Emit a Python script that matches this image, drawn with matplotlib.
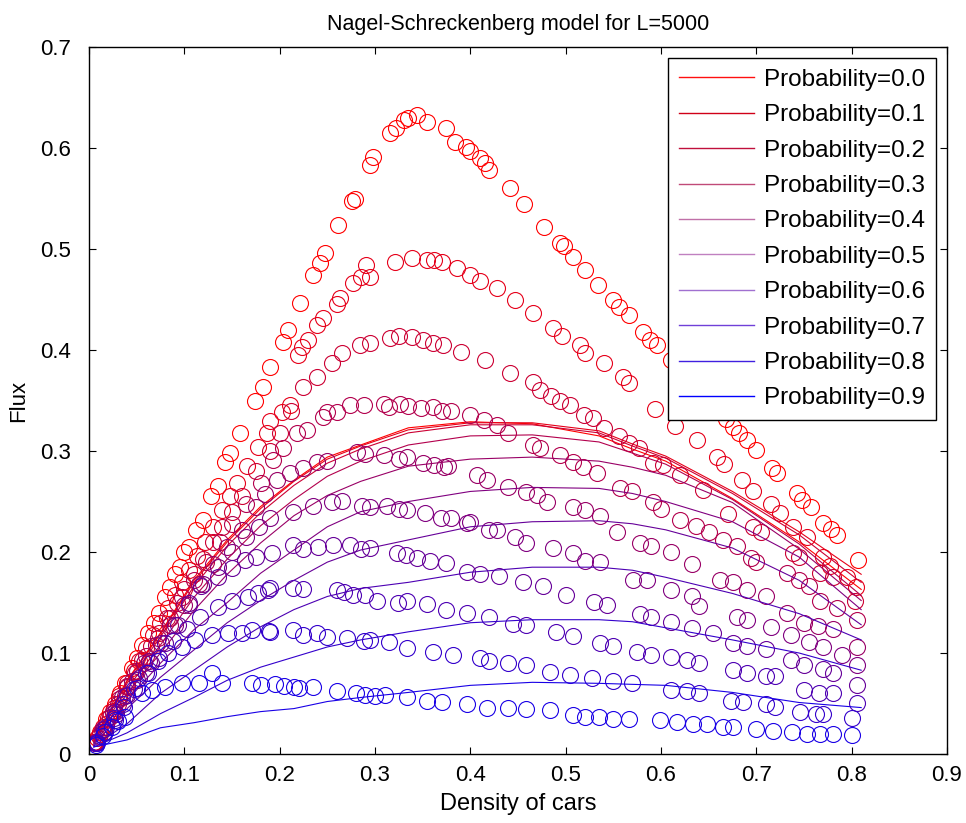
import numpy as np
import matplotlib
matplotlib.use('Agg')
import matplotlib.pyplot as plt
from matplotlib.lines import Line2D

plt.rcParams['font.family'] = ['Liberation Sans', 'DejaVu Sans']

# probabilities and colours (red -> blue)
probs = [0.0, 0.1, 0.2, 0.3, 0.4, 0.5, 0.6, 0.7, 0.8, 0.9]
legend_colors = ['#ff1010', '#d00018', '#c0103c', '#c04a78', '#c070a8',
                 '#c080c0', '#a070d0', '#7040d8', '#4020e0', '#0000ff']

# simulated flux points (circles), one list per probability
x_p0 = [0.005, 0.008, 0.012, 0.018, 0.022, 0.027, 0.033, 0.038, 0.045, 0.05, 0.056, 0.062, 0.068, 0.073,
        0.08, 0.085, 0.09, 0.095, 0.1, 0.105, 0.112, 0.12, 0.128, 0.135, 0.143, 0.148, 0.158, 0.174, 0.183,
        0.19, 0.204, 0.209, 0.221, 0.235, 0.242, 0.248, 0.261, 0.276, 0.279, 0.295, 0.298, 0.316, 0.322,
        0.33, 0.335, 0.344, 0.355, 0.374, 0.384, 0.396, 0.40, 0.41, 0.415, 0.42, 0.442, 0.456, 0.477, 0.494,
        0.498, 0.508, 0.52, 0.534, 0.55, 0.556, 0.566, 0.581, 0.588, 0.596, 0.61, 0.625, 0.64, 0.655, 0.668,
        0.676, 0.682, 0.69, 0.70, 0.716, 0.722, 0.743, 0.748, 0.757, 0.77, 0.778, 0.785, 0.807]
y_p0 = [0.012, 0.016, 0.022, 0.035, 0.042, 0.05, 0.06, 0.07, 0.085, 0.095, 0.108, 0.12, 0.13, 0.14,
        0.155, 0.165, 0.178, 0.185, 0.2, 0.205, 0.222, 0.232, 0.255, 0.265, 0.289, 0.298, 0.318, 0.35, 0.363,
        0.383, 0.408, 0.42, 0.447, 0.474, 0.486, 0.496, 0.524, 0.548, 0.55, 0.583, 0.591, 0.615, 0.62,
        0.628, 0.63, 0.633, 0.626, 0.62, 0.606, 0.601, 0.597, 0.59, 0.585, 0.578, 0.56, 0.545, 0.522, 0.506,
        0.503, 0.492, 0.479, 0.464, 0.45, 0.443, 0.435, 0.418, 0.41, 0.405, 0.39, 0.375, 0.36, 0.345, 0.332,
        0.324, 0.318, 0.311, 0.301, 0.283, 0.278, 0.258, 0.252, 0.245, 0.229, 0.223, 0.217, 0.192]

x_p1 = [0.006, 0.01, 0.015, 0.02, 0.026, 0.032, 0.04, 0.047, 0.053, 0.06, 0.067, 0.075, 0.083, 0.09,
        0.098, 0.105, 0.113, 0.122, 0.13, 0.14, 0.148, 0.155, 0.166, 0.177, 0.187, 0.19, 0.202, 0.211,
        0.219, 0.223, 0.23, 0.239, 0.246, 0.26, 0.263, 0.277, 0.285, 0.291, 0.295, 0.321, 0.339, 0.355,
        0.362, 0.37, 0.386, 0.40, 0.41, 0.428, 0.447, 0.466, 0.487, 0.496, 0.515, 0.52, 0.54, 0.56, 0.566,
        0.594, 0.615, 0.638, 0.659, 0.666, 0.685, 0.697, 0.715, 0.725, 0.739, 0.753, 0.77, 0.777, 0.795, 0.805]
y_p1 = [0.012, 0.018, 0.027, 0.036, 0.046, 0.057, 0.07, 0.082, 0.092, 0.105, 0.118, 0.13, 0.145, 0.157,
        0.17, 0.182, 0.196, 0.21, 0.225, 0.242, 0.255, 0.268, 0.285, 0.304, 0.318, 0.33, 0.339, 0.346,
        0.395, 0.403, 0.41, 0.425, 0.432, 0.446, 0.452, 0.466, 0.472, 0.484, 0.472, 0.487, 0.491, 0.489,
        0.489, 0.487, 0.481, 0.474, 0.468, 0.461, 0.45, 0.437, 0.422, 0.414, 0.405, 0.397, 0.387, 0.373, 0.367,
        0.342, 0.325, 0.311, 0.294, 0.287, 0.271, 0.26, 0.248, 0.239, 0.225, 0.215, 0.195, 0.186, 0.175, 0.165]

x_p2 = [0.006, 0.012, 0.018, 0.025, 0.032, 0.04, 0.048, 0.056, 0.065, 0.073, 0.082, 0.092, 0.1, 0.11,
        0.12, 0.13, 0.14, 0.15, 0.16, 0.175, 0.19, 0.2, 0.212, 0.225, 0.239, 0.255, 0.265, 0.284, 0.295,
        0.316, 0.325, 0.339, 0.35, 0.361, 0.371, 0.39, 0.415, 0.442, 0.466, 0.473, 0.485, 0.494, 0.505,
        0.519, 0.529, 0.54, 0.556, 0.566, 0.577, 0.592, 0.602, 0.62, 0.644, 0.67, 0.697, 0.705, 0.739,
        0.745, 0.767, 0.78, 0.804]
y_p2 = [0.011, 0.02, 0.03, 0.043, 0.054, 0.067, 0.08, 0.093, 0.107, 0.12, 0.135, 0.15, 0.163, 0.178,
        0.193, 0.21, 0.225, 0.24, 0.255, 0.28, 0.3, 0.318, 0.34, 0.363, 0.373, 0.387, 0.397, 0.405, 0.407,
        0.412, 0.414, 0.413, 0.41, 0.407, 0.405, 0.398, 0.39, 0.377, 0.368, 0.36, 0.355, 0.35, 0.346,
        0.336, 0.333, 0.323, 0.315, 0.308, 0.303, 0.288, 0.286, 0.276, 0.261, 0.238, 0.225, 0.22, 0.199,
        0.195, 0.179, 0.175, 0.152]

x_p3 = [0.007, 0.014, 0.022, 0.03, 0.04, 0.05, 0.06, 0.072, 0.085, 0.098, 0.11, 0.123, 0.137, 0.15,
        0.165, 0.18, 0.193, 0.204, 0.218, 0.229, 0.245, 0.25, 0.26, 0.274, 0.288, 0.309, 0.315, 0.326,
        0.335, 0.348, 0.361, 0.37, 0.38, 0.40, 0.414, 0.428, 0.44, 0.466, 0.473, 0.494, 0.508, 0.518,
        0.533, 0.557, 0.57, 0.592, 0.60, 0.62, 0.637, 0.65, 0.665, 0.68, 0.694, 0.70, 0.732, 0.745, 0.755,
        0.767, 0.785, 0.806]
y_p3 = [0.012, 0.024, 0.037, 0.05, 0.066, 0.082, 0.097, 0.115, 0.135, 0.155, 0.172, 0.19, 0.21, 0.228,
        0.248, 0.268, 0.291, 0.303, 0.318, 0.321, 0.334, 0.339, 0.339, 0.346, 0.346, 0.347, 0.344, 0.347,
        0.345, 0.343, 0.344, 0.34, 0.34, 0.336, 0.331, 0.326, 0.318, 0.306, 0.303, 0.296, 0.289, 0.284,
        0.278, 0.263, 0.26, 0.25, 0.243, 0.232, 0.226, 0.22, 0.212, 0.206, 0.194, 0.19, 0.179, 0.172, 0.166,
        0.152, 0.145, 0.133]

x_p4 = [0.006, 0.015, 0.025, 0.035, 0.045, 0.058, 0.07, 0.085, 0.1, 0.115, 0.13, 0.145, 0.16, 0.175,
        0.185, 0.197, 0.211, 0.225, 0.239, 0.25, 0.281, 0.29, 0.309, 0.325, 0.334, 0.35, 0.362, 0.372,
        0.377, 0.407, 0.417, 0.44, 0.458, 0.47, 0.48, 0.508, 0.52, 0.536, 0.554, 0.578, 0.59, 0.61, 0.633,
        0.662, 0.676, 0.69, 0.71, 0.732, 0.75, 0.765, 0.78, 0.806]
y_p4 = [0.011, 0.025, 0.041, 0.056, 0.072, 0.09, 0.108, 0.128, 0.148, 0.168, 0.188, 0.205, 0.222, 0.245,
        0.257, 0.271, 0.278, 0.283, 0.289, 0.29, 0.299, 0.297, 0.296, 0.292, 0.294, 0.288, 0.286, 0.284,
        0.285, 0.276, 0.271, 0.264, 0.259, 0.256, 0.25, 0.245, 0.242, 0.236, 0.22, 0.209, 0.206, 0.2, 0.188,
        0.172, 0.17, 0.162, 0.156, 0.14, 0.13, 0.127, 0.124, 0.106]

x_p5 = [0.007, 0.016, 0.027, 0.038, 0.05, 0.063, 0.076, 0.09, 0.105, 0.12, 0.135, 0.15, 0.165, 0.178,
        0.19, 0.214, 0.235, 0.255, 0.265, 0.286, 0.295, 0.313, 0.325, 0.334, 0.353, 0.369, 0.38, 0.397,
        0.40, 0.42, 0.428, 0.447, 0.458, 0.487, 0.508, 0.52, 0.536, 0.571, 0.585, 0.61, 0.633, 0.64, 0.68,
        0.69, 0.715, 0.736, 0.755, 0.77, 0.79, 0.806]
y_p5 = [0.012, 0.025, 0.042, 0.057, 0.073, 0.092, 0.11, 0.128, 0.148, 0.168, 0.185, 0.2, 0.215, 0.225,
        0.234, 0.24, 0.246, 0.25, 0.251, 0.246, 0.245, 0.246, 0.243, 0.242, 0.239, 0.234, 0.234, 0.229,
        0.23, 0.222, 0.222, 0.215, 0.209, 0.204, 0.199, 0.191, 0.19, 0.172, 0.172, 0.162, 0.156, 0.147, 0.136,
        0.133, 0.126, 0.118, 0.111, 0.106, 0.098, 0.088]

x_p6 = [0.008, 0.018, 0.028, 0.04, 0.052, 0.065, 0.08, 0.093, 0.105, 0.118, 0.135, 0.15, 0.164, 0.175,
        0.192, 0.214, 0.225, 0.24, 0.256, 0.274, 0.285, 0.295, 0.323, 0.333, 0.344, 0.358, 0.374, 0.397,
        0.41, 0.43, 0.455, 0.476, 0.50, 0.53, 0.543, 0.578, 0.59, 0.61, 0.633, 0.655, 0.676, 0.69, 0.71,
        0.736, 0.75, 0.77, 0.78, 0.806]
y_p6 = [0.012, 0.027, 0.04, 0.058, 0.075, 0.09, 0.11, 0.128, 0.15, 0.166, 0.175, 0.184, 0.192, 0.195,
        0.199, 0.207, 0.203, 0.205, 0.207, 0.207, 0.203, 0.204, 0.199, 0.197, 0.194, 0.191, 0.189, 0.18,
        0.178, 0.176, 0.17, 0.166, 0.157, 0.151, 0.148, 0.139, 0.136, 0.131, 0.125, 0.12, 0.11, 0.107, 0.104,
        0.093, 0.088, 0.084, 0.08, 0.068]

x_p7 = [0.007, 0.016, 0.026, 0.036, 0.047, 0.06, 0.073, 0.088, 0.103, 0.116, 0.135, 0.15, 0.167, 0.177,
        0.188, 0.19, 0.214, 0.225, 0.26, 0.268, 0.277, 0.29, 0.302, 0.324, 0.334, 0.355, 0.375, 0.397, 0.42,
        0.445, 0.458, 0.49, 0.508, 0.536, 0.55, 0.575, 0.59, 0.61, 0.627, 0.64, 0.676, 0.69, 0.71, 0.72,
        0.75, 0.766, 0.78, 0.806]
y_p7 = [0.011, 0.022, 0.036, 0.05, 0.064, 0.08, 0.095, 0.112, 0.124, 0.136, 0.146, 0.152, 0.155, 0.159,
        0.162, 0.164, 0.164, 0.163, 0.162, 0.16, 0.157, 0.157, 0.152, 0.15, 0.152, 0.149, 0.143, 0.14, 0.136,
        0.129, 0.128, 0.121, 0.117, 0.11, 0.107, 0.101, 0.098, 0.096, 0.093, 0.09, 0.083, 0.08, 0.077, 0.077,
        0.063, 0.06, 0.06, 0.051]

x_p8 = [0.008, 0.017, 0.027, 0.037, 0.05, 0.062, 0.072, 0.083, 0.098, 0.111, 0.129, 0.146, 0.16, 0.171,
        0.189, 0.19, 0.214, 0.225, 0.239, 0.25, 0.271, 0.288, 0.295, 0.315, 0.334, 0.361, 0.382, 0.41, 0.42,
        0.44, 0.458, 0.484, 0.505, 0.528, 0.55, 0.57, 0.61, 0.627, 0.64, 0.673, 0.686, 0.71, 0.72, 0.746,
        0.763, 0.77, 0.80]
y_p8 = [0.011, 0.022, 0.034, 0.047, 0.065, 0.08, 0.092, 0.1, 0.106, 0.113, 0.118, 0.12, 0.12, 0.123,
        0.122, 0.121, 0.123, 0.118, 0.12, 0.116, 0.115, 0.112, 0.113, 0.111, 0.105, 0.101, 0.098, 0.095, 0.092,
        0.09, 0.088, 0.081, 0.078, 0.075, 0.072, 0.07, 0.063, 0.062, 0.06, 0.053, 0.052, 0.05, 0.047, 0.042,
        0.04, 0.04, 0.036]

x_p9 = [0.007, 0.015, 0.024, 0.03, 0.038, 0.056, 0.066, 0.08, 0.098, 0.115, 0.129, 0.14, 0.171, 0.18,
        0.195, 0.205, 0.215, 0.22, 0.235, 0.26, 0.28, 0.29, 0.30, 0.31, 0.334, 0.355, 0.37, 0.397, 0.417,
        0.44, 0.458, 0.484, 0.508, 0.52, 0.535, 0.55, 0.566, 0.599, 0.617, 0.634, 0.648, 0.665, 0.676, 0.70,
        0.717, 0.737, 0.753, 0.767, 0.78, 0.80]
y_p9 = [0.009, 0.018, 0.027, 0.033, 0.037, 0.06, 0.063, 0.066, 0.07, 0.07, 0.08, 0.07, 0.07, 0.068,
        0.069, 0.067, 0.066, 0.065, 0.066, 0.062, 0.06, 0.058, 0.057, 0.058, 0.056, 0.053, 0.052, 0.05, 0.046,
        0.046, 0.045, 0.044, 0.039, 0.037, 0.037, 0.035, 0.035, 0.034, 0.032, 0.03, 0.03, 0.027, 0.027, 0.025,
        0.023, 0.022, 0.02, 0.02, 0.02, 0.019]

circ_x = [x_p0, x_p1, x_p2, x_p3, x_p4, x_p5, x_p6, x_p7, x_p8, x_p9]
circ_y = [y_p0, y_p1, y_p2, y_p3, y_p4, y_p5, y_p6, y_p7, y_p8, y_p9]

# averaged flux curves (lines)
line_x = [0.005, 0.04, 0.075, 0.11, 0.145, 0.18, 0.215, 0.25, 0.285, 0.335, 0.40, 0.465, 0.535,
          0.57, 0.605, 0.675, 0.745, 0.81]
line_y = [
    [0.014, 0.073, 0.12, 0.172, 0.212, 0.245, 0.271, 0.294, 0.306, 0.323, 0.329, 0.327, 0.315, 0.302, 0.29, 0.253, 0.21, 0.163],
    [0.014, 0.072, 0.119, 0.17, 0.21, 0.243, 0.27, 0.292, 0.305, 0.321, 0.328, 0.328, 0.32, 0.307, 0.295, 0.26, 0.22, 0.178],
    [0.013, 0.07, 0.116, 0.166, 0.206, 0.239, 0.266, 0.288, 0.302, 0.318, 0.326, 0.326, 0.318, 0.305, 0.293, 0.258, 0.217, 0.17],
    [0.012, 0.065, 0.108, 0.155, 0.193, 0.226, 0.252, 0.275, 0.29, 0.306, 0.315, 0.316, 0.309, 0.298, 0.287, 0.252, 0.208, 0.157],
    [0.011, 0.06, 0.1, 0.142, 0.178, 0.209, 0.236, 0.256, 0.27, 0.285, 0.292, 0.294, 0.29, 0.284, 0.276, 0.249, 0.203, 0.152],
    [0.01, 0.053, 0.09, 0.123, 0.15, 0.179, 0.202, 0.225, 0.24, 0.25, 0.26, 0.264, 0.263, 0.258, 0.25, 0.23, 0.195, 0.143],
    [0.009, 0.045, 0.076, 0.103, 0.13, 0.152, 0.172, 0.19, 0.202, 0.212, 0.225, 0.23, 0.231, 0.228, 0.222, 0.204, 0.172, 0.128],
    [0.008, 0.03, 0.06, 0.083, 0.106, 0.126, 0.143, 0.156, 0.164, 0.17, 0.18, 0.185, 0.185, 0.182, 0.175, 0.159, 0.139, 0.113],
    [0.007, 0.021, 0.04, 0.056, 0.073, 0.086, 0.096, 0.106, 0.113, 0.121, 0.13, 0.133, 0.133, 0.131, 0.125, 0.113, 0.1, 0.083],
    [0.007, 0.014, 0.026, 0.031, 0.037, 0.042, 0.045, 0.052, 0.056, 0.061, 0.068, 0.071, 0.07, 0.069, 0.068, 0.061, 0.051, 0.046],
]

fig = plt.figure(figsize=(9.66, 8.23), dpi=100)
fig.patch.set_facecolor('white')
ax = fig.add_axes([0.0921, 0.0838, 0.8882, 0.859])

for i, p in enumerate(probs):
    col = (1 - p, 0, p)
    ax.plot(circ_x[i], circ_y[i], 'o', ms=11.5, mfc='none', mec=col, mew=0.8)
    ax.plot(line_x, line_y[i], '-', color=col, lw=0.8)

ax.set_xlim(0, 0.9)
ax.set_ylim(0, 0.7)
ax.set_xticks(np.arange(0, 0.91, 0.1))
ax.set_yticks(np.arange(0, 0.71, 0.1))
ax.set_xticklabels(['0'] + ['%.1f' % v for v in np.arange(0.1, 0.91, 0.1)])
ax.set_yticklabels(['0'] + ['%.1f' % v for v in np.arange(0.1, 0.71, 0.1)])
ax.tick_params(direction='in', length=5, width=0.8, top=True, right=True, labelsize=16)
ax.tick_params(axis='x', pad=8)
ax.tick_params(axis='y', pad=13)
for s in ax.spines.values():
    s.set_linewidth(1.0)

ax.set_xlabel('Density of cars', fontsize=17, labelpad=5)
ax.set_ylabel('Flux', fontsize=16, labelpad=8)
ax.set_title('Nagel-Schreckenberg model for L=5000', fontsize=15.5, pad=12,
             family=['Liberation Sans Narrow', 'Liberation Sans', 'DejaVu Sans'])

# legend with explicit entry colours
proxies = [Line2D([], [], color=c, lw=1.0) for c in legend_colors]
leg = ax.legend(proxies, ['Probability=%.1f' % p for p in probs], loc='upper right',
                fontsize=17.5, fancybox=False, framealpha=1, edgecolor='black',
                borderaxespad=0.45, handlelength=3.1, handletextpad=0.4,
                labelspacing=0.55, borderpad=0.45)
leg.get_frame().set_linewidth(1.0)

plt.savefig('out.png', dpi=100, facecolor='white')
